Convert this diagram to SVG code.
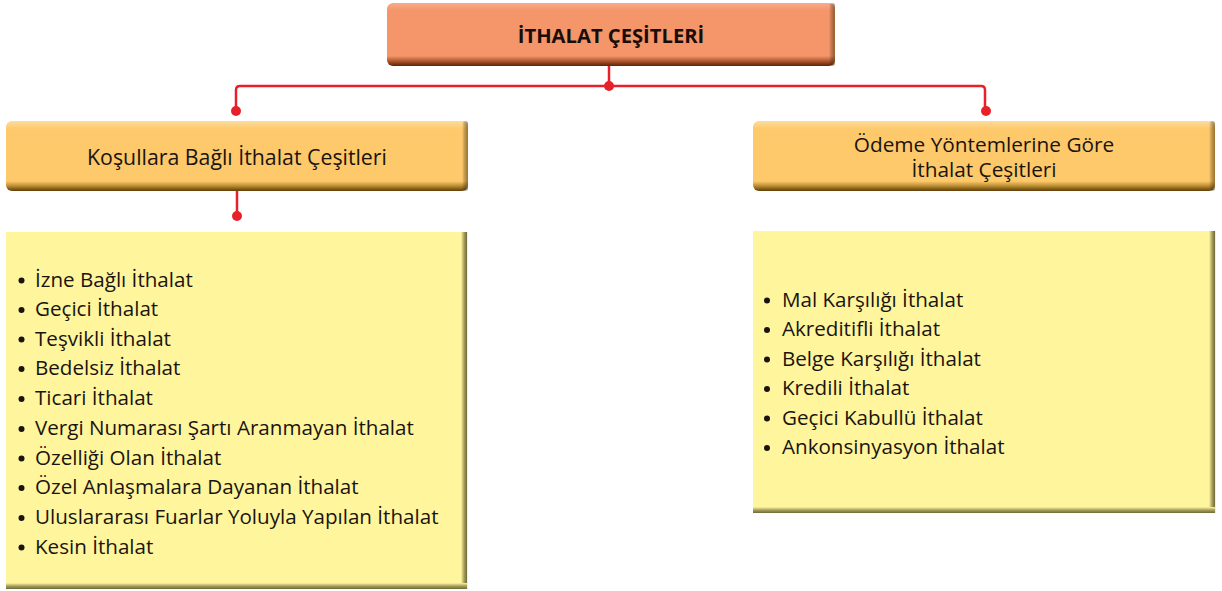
<svg xmlns="http://www.w3.org/2000/svg" width="1222" height="591" viewBox="0 0 1222 591">
<defs>
<linearGradient id="gTop" x1="0" y1="0" x2="0" y2="1">
<stop offset="0" stop-color="#F8AC88"/>
<stop offset="0.12" stop-color="#F4956A"/>
<stop offset="0.84" stop-color="#F4956A"/>
<stop offset="0.92" stop-color="#B0582E"/>
<stop offset="1" stop-color="#5C2208"/>
</linearGradient>
<linearGradient id="gOr" x1="0" y1="0" x2="0" y2="1">
<stop offset="0" stop-color="#FEDC9C"/>
<stop offset="0.12" stop-color="#FDC96A"/>
<stop offset="0.86" stop-color="#FDC96A"/>
<stop offset="0.93" stop-color="#B88A30"/>
<stop offset="1" stop-color="#5E3E08"/>
</linearGradient>
<linearGradient id="gSideO" x1="0" y1="0" x2="1" y2="0">
<stop offset="0" stop-color="#000" stop-opacity="0"/>
<stop offset="1" stop-color="#5E3E08" stop-opacity="0.6"/>
</linearGradient>
<linearGradient id="gYR" x1="0" y1="0" x2="1" y2="0">
<stop offset="0" stop-color="#FFF59D"/>
<stop offset="0.5" stop-color="#A8A060"/>
<stop offset="1" stop-color="#6E6838"/>
</linearGradient>
<linearGradient id="gYB" x1="0" y1="0" x2="0" y2="1">
<stop offset="0" stop-color="#FFF59D"/>
<stop offset="0.5" stop-color="#A8A060"/>
<stop offset="1" stop-color="#6E6838"/>
</linearGradient>
<style>
.t{font-family:"Open Sans","Noto Sans","DejaVu Sans",sans-serif;fill:#1A1410;font-size:20.6px}
.h{font-family:"Open Sans","Noto Sans","DejaVu Sans",sans-serif;fill:#1A1410;font-size:21.3px;text-anchor:middle}
.h2{font-family:"Open Sans","Noto Sans","DejaVu Sans",sans-serif;fill:#1A1410;font-size:20.8px;text-anchor:middle}
.b{font-family:"Open Sans","Noto Sans","DejaVu Sans",sans-serif;fill:#1A0C06;font-size:20.2px;font-weight:bold;text-anchor:middle}
.ln{fill:none;stroke:#E8202A;stroke-width:2.5}
.dot{fill:#E8202A}
.bul{fill:#1A1410}
</style>
</defs>

<g id="connectors">
<path class="ln" d="M609,65 V86"/>
<path class="ln" d="M236,111 V90 Q236,86 240,86 H981 Q985,86 985,90 V111"/>
<circle class="dot" cx="609" cy="86" r="5"/>
<circle class="dot" cx="236" cy="111" r="5"/>
<circle class="dot" cx="986" cy="111" r="5"/>
<path class="ln" d="M237,190 V216"/>
<circle class="dot" cx="237" cy="216" r="5"/>
</g>

<g id="root">
<rect x="387" y="3" width="448" height="63" rx="6" fill="url(#gTop)"/>
<rect x="829" y="3" width="6" height="63" rx="3" fill="url(#gSideO)"/>
<text class="b" x="611" y="43">İTHALAT ÇEŞİTLERİ</text>
</g>

<g id="kosullara">
<rect x="6" y="121" width="462" height="70" rx="6" fill="url(#gOr)"/>
<rect x="462" y="121" width="6" height="70" rx="3" fill="url(#gSideO)"/>
<text class="h" x="237" y="165">Koşullara Bağlı İthalat Çeşitleri</text>
</g>

<g id="odeme">
<rect x="753" y="121" width="462" height="70" rx="6" fill="url(#gOr)"/>
<rect x="1209" y="121" width="6" height="70" rx="3" fill="url(#gSideO)"/>
<text class="h2" x="984" y="152"><tspan x="984">Ödeme Yöntemlerine Göre</tspan><tspan x="984" dy="25">İthalat Çeşitleri</tspan></text>
</g>

<g id="kosullara-list">
<rect x="6" y="232" width="462" height="357" fill="#FFF59D"/>
<rect x="461" y="232" width="6" height="357" fill="url(#gYR)"/>
<rect x="6" y="583" width="461" height="6" fill="url(#gYB)"/>
<g class="bul">
<circle cx="21.5" cy="280.5" r="3"/>
<circle cx="21.5" cy="310" r="3"/>
<circle cx="21.5" cy="339.5" r="3"/>
<circle cx="21.5" cy="369" r="3"/>
<circle cx="21.5" cy="399" r="3"/>
<circle cx="21.5" cy="429" r="3"/>
<circle cx="21.5" cy="458.5" r="3"/>
<circle cx="21.5" cy="488" r="3"/>
<circle cx="21.5" cy="518" r="3"/>
<circle cx="21.5" cy="547.5" r="3"/>
</g>
<text class="t" x="35" y="286.5">İzne Bağlı İthalat</text>
<text class="t" x="35" y="316">Geçici İthalat</text>
<text class="t" x="35" y="345.5">Teşvikli İthalat</text>
<text class="t" x="35" y="375">Bedelsiz İthalat</text>
<text class="t" x="35" y="405">Ticari İthalat</text>
<text class="t" x="35" y="435">Vergi Numarası Şartı Aranmayan İthalat</text>
<text class="t" x="35" y="464.5">Özelliği Olan İthalat</text>
<text class="t" x="35" y="494">Özel Anlaşmalara Dayanan İthalat</text>
<text class="t" x="35" y="524">Uluslararası Fuarlar Yoluyla Yapılan İthalat</text>
<text class="t" x="35" y="553.5">Kesin İthalat</text>
</g>

<g id="odeme-list">
<rect x="753" y="231" width="463" height="282" fill="#FFF59D"/>
<rect x="1209" y="231" width="6" height="282" fill="url(#gYR)"/>
<rect x="753" y="507" width="462" height="6" fill="url(#gYB)"/>
<g class="bul">
<circle cx="767" cy="300.5" r="3"/>
<circle cx="767" cy="330" r="3"/>
<circle cx="767" cy="359.5" r="3"/>
<circle cx="767" cy="389" r="3"/>
<circle cx="767" cy="418.5" r="3"/>
<circle cx="767" cy="448" r="3"/>
</g>
<text class="t" x="782" y="306.5">Mal Karşılığı İthalat</text>
<text class="t" x="782" y="336">Akreditifli İthalat</text>
<text class="t" x="782" y="365.5">Belge Karşılığı İthalat</text>
<text class="t" x="782" y="395">Kredili İthalat</text>
<text class="t" x="782" y="424.5">Geçici Kabullü İthalat</text>
<text class="t" x="782" y="454">Ankonsinyasyon İthalat</text>
</g>
</svg>
